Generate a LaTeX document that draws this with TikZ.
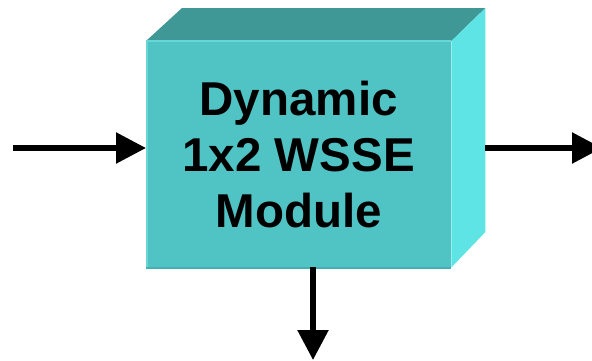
\documentclass[tikz,border=0pt]{standalone}
\usepackage{fontspec}
\setmainfont{Liberation Sans}
\usetikzlibrary{arrows.meta,calc,positioning}

\definecolor{boxfront}{RGB}{80,196,196}
\definecolor{boxtop}{RGB}{64,152,150}
\definecolor{boxside}{RGB}{94,228,228}
\definecolor{boxedge}{RGB}{104,214,214}
\definecolor{boxshade}{RGB}{70,176,176}

\begin{document}
\begin{tikzpicture}[x=1pt,y=-1pt,>={Triangle[length=30pt,width=30pt]},
  flow/.style={->,line width=5.5pt}]
 \useasboundingbox (0,0) rectangle (592,360);
 % front face of the module
 \node[fill=boxfront,minimum width=305pt,minimum height=226pt,inner sep=0pt,
   anchor=north west,align=center,font=\bfseries\fontsize{47.5}{56}\selectfont]
   (wsse) at (146,41) {Dynamic\\1x2 WSSE\\Module};
 \coordinate (back) at ($(wsse.north east)+(34,-33)$);
 % top and side faces
 \fill[boxtop] (wsse.north west) -- ++(36,-33) -- (back) -- (wsse.north east) -- cycle;
 \fill[boxside] (wsse.north east) -- (back) -- ++(0,224) -- (wsse.south east) -- cycle;
 \draw[boxedge,line width=2pt] ([xshift=1pt]wsse.south west) -- ([xshift=1pt]wsse.north west)
   -- (wsse.north east);
 \draw[boxshade,line width=2pt] ([yshift=-1pt]wsse.south west) -- ([yshift=-1pt]wsse.south east);
 % ports
 \coordinate (in) at (13,148);
 \coordinate (out) at (602,148);
 \coordinate (drop) at (313,360);
 \draw[flow] (in) -- (in -| wsse.west);
 \draw[flow] (out -| back) -- (out);
 \draw[flow] (drop |- wsse.south) -- (drop);
\end{tikzpicture}
\end{document}
